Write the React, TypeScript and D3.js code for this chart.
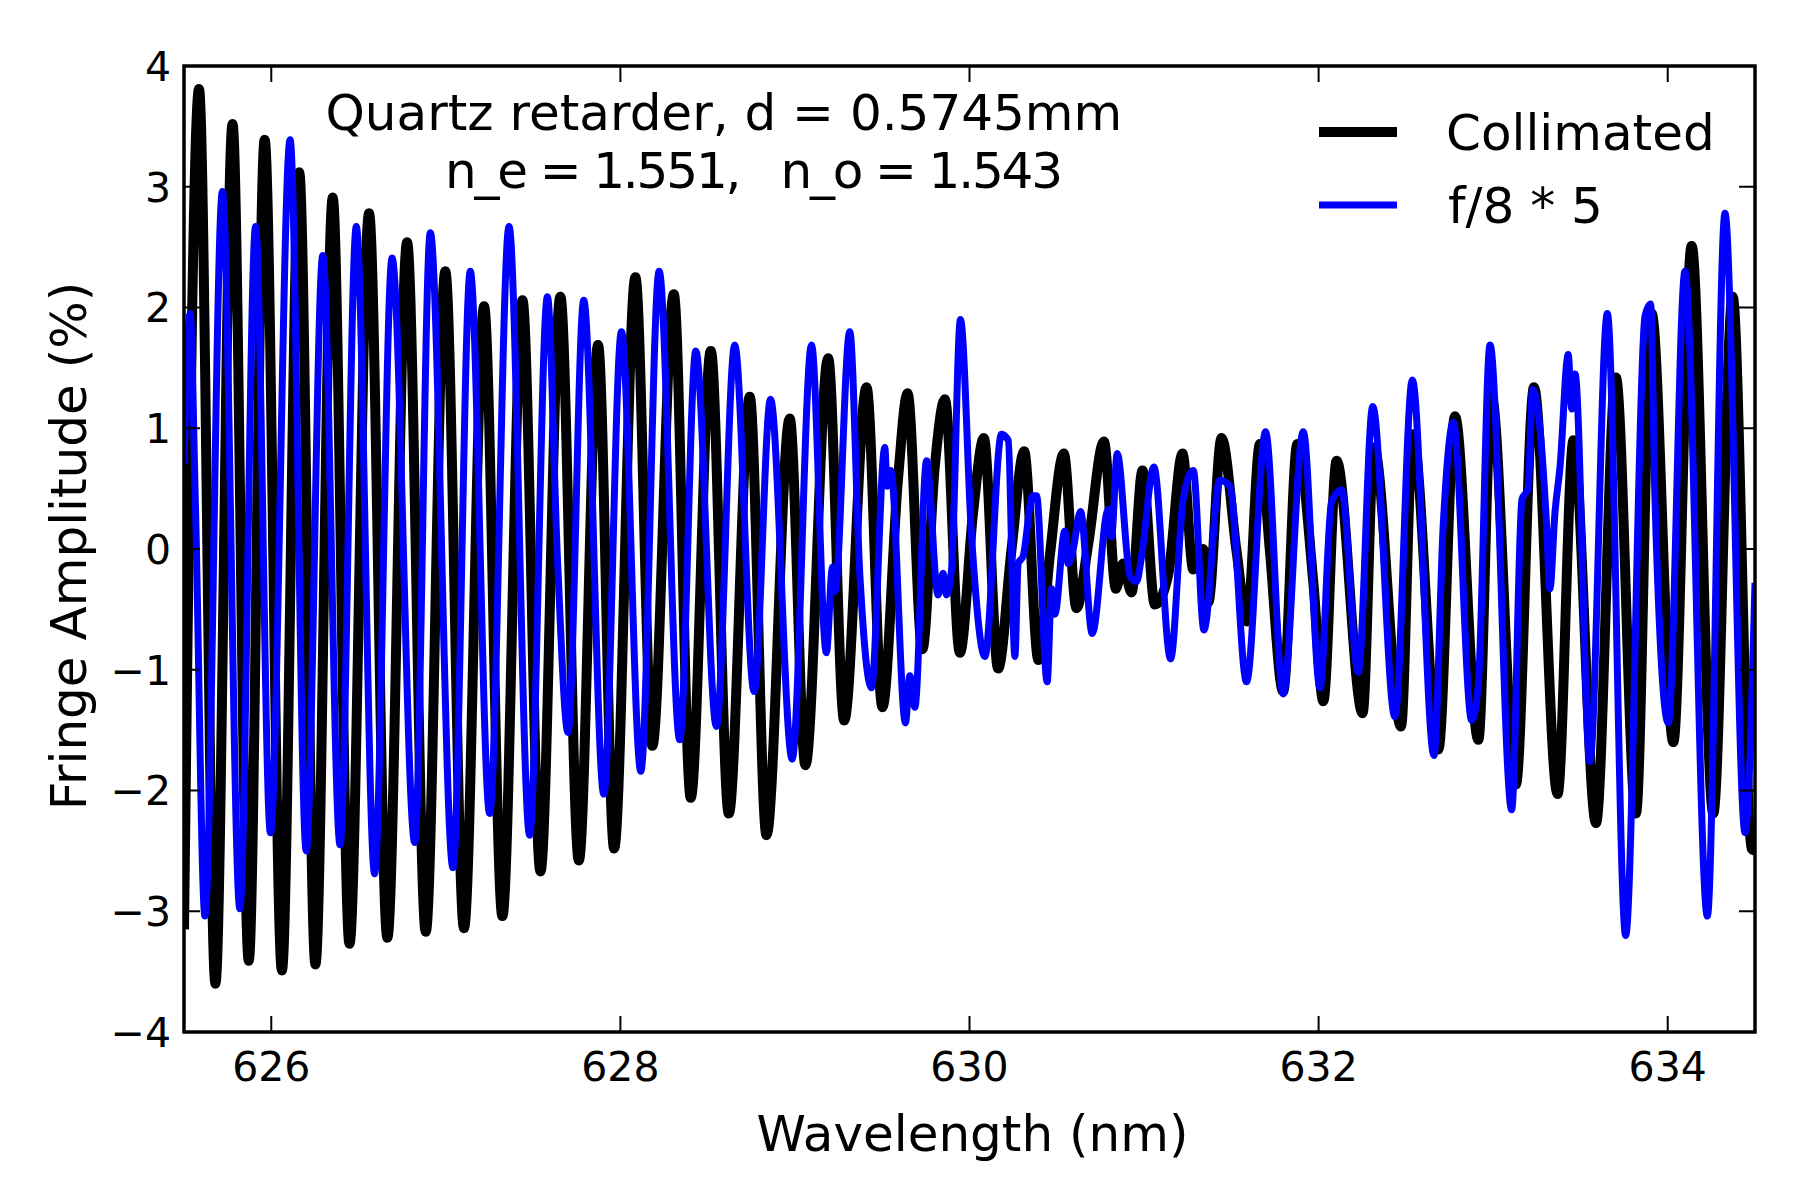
import React from "react";
import * as d3 from "d3";

// Collimated series: [wavelength nm, fringe amplitude %]
const collimated: [number, number][] = [
  [625.5, -3.15], [625.586, 3.81], [625.68, -3.6], [625.778, 3.52], [625.871, -3.41],
  [625.962, 3.39], [626.061, -3.49], [626.16, 3.12], [626.253, -3.44], [626.352, 2.91],
  [626.448, -3.27], [626.56, 2.78], [626.665, -3.22], [626.778, 2.54], [626.885, -3.17],
  [626.997, 2.3], [627.104, -3.14], [627.219, 2.01], [627.324, -3.04], [627.439, 2.06],
  [627.542, -2.67], [627.656, 2.09], [627.762, -2.58], [627.872, 1.69], [627.964, -2.48],
  [628.086, 2.25], [628.183, -1.63], [628.306, 2.11], [628.403, -2.06], [628.518, 1.64],
  [628.621, -2.19], [628.741, 1.26], [628.837, -2.37], [628.97, 1.08], [629.06, -1.79],
  [629.19, 1.58], [629.282, -1.42], [629.41, 1.34], [629.501, -1.31], [629.59, 0.57],
  [629.645, 1.29], [629.73, -0.83], [629.801, 0.68], [629.859, 1.24], [629.945, -0.86],
  [630.021, 0.31], [630.082, 0.92], [630.164, -0.99], [630.241, 0.0], [630.313, 0.81],
  [630.395, -0.92], [630.46, -0.06], [630.54, 0.79], [630.613, -0.49], [630.68, 0.04],
  [630.77, 0.89], [630.839, -0.33], [630.88, -0.12], [630.928, -0.36], [630.991, 0.65],
  [631.062, -0.46], [631.139, -0.21], [631.22, 0.79], [631.282, -0.17], [631.339, 0.0],
  [631.368, -0.44], [631.444, 0.92], [631.53, -0.02], [631.59, -0.6], [631.664, 0.87],
  [631.72, 0.0], [631.797, -1.18], [631.878, 0.87], [631.97, -0.28], [632.027, -1.26],
  [632.103, 0.73], [632.252, -1.36], [632.317, 0.84], [632.472, -1.47], [632.539, 0.95],
  [632.686, -1.66], [632.781, 1.1], [632.915, -1.58], [632.991, 1.26], [633.13, -1.95],
  [633.234, 1.34], [633.369, -2.03], [633.46, 0.9], [633.589, -2.27], [633.703, 1.42],
  [633.818, -2.19], [633.908, 1.95], [634.032, -1.6], [634.137, 2.51], [634.261, -2.19],
  [634.372, 2.09], [634.48, -2.48], [634.5, -2.5],
];

// f/8 * 5 series
const f8: [number, number][] = [
  [625.5, 0.7], [625.535, 1.95], [625.565, 0.4], [625.62, -3.04], [625.72, 2.96],
  [625.82, -2.98], [625.91, 2.67], [625.995, -2.35], [626.108, 3.39], [626.2, -2.5],
  [626.295, 2.43], [626.394, -2.45], [626.487, 2.67], [626.592, -2.69], [626.692, 2.41],
  [626.822, -2.43], [626.911, 2.62], [627.041, -2.64], [627.14, 2.3], [627.251, -2.19],
  [627.362, 2.67], [627.48, -2.37], [627.582, 2.09], [627.64, -0.1], [627.7, -1.52],
  [627.79, 2.06], [627.905, -2.03], [628.006, 1.8], [628.117, -1.84], [628.222, 2.3],
  [628.34, -1.58], [628.432, 1.64], [628.55, -1.47], [628.655, 1.69], [628.766, -1.18],
  [628.86, 1.24], [628.984, -1.74], [629.095, 1.69], [629.18, -0.86], [629.215, -0.15],
  [629.229, -0.35], [629.314, 1.8], [629.372, -0.22], [629.438, -1.15], [629.515, 0.84],
  [629.528, 0.52], [629.549, 0.65], [629.633, -1.44], [629.658, -1.05], [629.687, -1.31],
  [629.754, 0.73], [629.82, -0.38], [629.849, -0.2], [629.868, -0.38], [629.897, -0.17],
  [629.948, 1.9], [630.012, 0.1], [630.088, -0.89], [630.183, 0.95], [630.222, 0.9],
  [630.26, -0.89], [630.279, -0.12], [630.307, -0.06], [630.361, 0.44], [630.384, 0.44],
  [630.445, -1.1], [630.47, -0.33], [630.489, -0.54], [630.546, 0.15], [630.565, -0.12],
  [630.594, 0.0], [630.636, 0.31], [630.703, -0.7], [630.795, 0.33], [630.814, 0.1],
  [630.846, 0.79], [630.919, -0.22], [630.957, -0.27], [630.986, -0.06], [631.056, 0.68],
  [631.152, -0.91], [631.224, 0.41], [631.282, 0.65], [631.343, -0.67], [631.434, 0.57],
  [631.492, 0.52], [631.587, -1.1], [631.696, 0.97], [631.797, -1.2], [631.912, 0.97],
  [632.008, -1.15], [632.074, 0.39], [632.132, 0.49], [632.227, -1.02], [632.31, 1.18],
  [632.437, -1.39], [632.537, 1.4], [632.661, -1.71], [632.714, 0.2], [632.772, 1.05],
  [632.877, -1.42], [632.915, -1.12], [632.982, 1.69], [633.106, -2.16], [633.165, 0.41],
  [633.2, 0.5], [633.226, 1.32], [633.268, 1.0], [633.306, 0.2], [633.325, -0.33],
  [633.354, 0.3], [633.383, 0.68], [633.43, 1.61], [633.45, 1.16], [633.469, 1.45],
  [633.554, -1.76], [633.654, 1.95], [633.759, -3.2], [633.87, 1.93], [633.902, 2.03],
  [633.927, 0.41], [634.003, -1.44], [634.099, 2.3], [634.227, -3.04], [634.328, 2.78],
  [634.443, -2.35], [634.5, -0.28],
];

const xTicks = [626, 628, 630, 632, 634];
const yTicks = [-4, -3, -2, -1, 0, 1, 2, 3, 4];
const seriesNames = ["Collimated", "f/8 * 5"];
const annotation = ["Quartz retarder, d = 0.5745mm", "n_e = 1.551,   n_o = 1.543"];

const W = 1800;
const H = 1200;
const L = 184, R = 1755, T = 66, B = 1032;
const FONT = "'DejaVu Sans', sans-serif";

export default function App() {
  const x = d3.scaleLinear().domain([625.5, 634.5]).range([L, R]);
  const y = d3.scaleLinear().domain([-4, 4]).range([B, T]);
  const line = d3
    .line<[number, number]>()
    .x((d) => x(d[0]))
    .y((d) => y(d[1]))
    .curve(d3.curveMonotoneX);
  const fmt = (v: number) => (v < 0 ? "\u2212" + Math.abs(v) : String(v));
  const tickLen = 16;

  return (
    <div style={{ position: "fixed", left: 0, top: 0, width: W, height: H, background: "#fff" }}>
      <svg width={W} height={H} viewBox={`0 0 ${W} ${H}`} style={{ display: "block" }}>
        <rect x={0} y={0} width={W} height={H} fill="#fff" />
        <defs>
          <clipPath id="plot">
            <rect x={L} y={T} width={R - L} height={B - T} />
          </clipPath>
        </defs>
        <g clipPath="url(#plot)">
          <path d={line(collimated) || ""} fill="none" stroke="#000" strokeWidth={10} strokeLinejoin="round" />
          <path d={line(f8) || ""} fill="none" stroke="#0000ff" strokeWidth={7} strokeLinejoin="round" />
        </g>
        {/* ticks */}
        {xTicks.map((t) => (
          <g key={"xt" + t}>
            <line x1={x(t)} x2={x(t)} y1={B} y2={B - tickLen} stroke="#000" strokeWidth={2} />
            <line x1={x(t)} x2={x(t)} y1={T} y2={T + tickLen} stroke="#000" strokeWidth={2} />
            <text x={x(t)} y={1081} textAnchor="middle" fontFamily={FONT} fontSize={41}>
              {fmt(t)}
            </text>
          </g>
        ))}
        {yTicks.map((t) => (
          <g key={"yt" + t}>
            <line x1={L} x2={L + tickLen} y1={y(t)} y2={y(t)} stroke="#000" strokeWidth={2} />
            <line x1={R} x2={R - tickLen} y1={y(t)} y2={y(t)} stroke="#000" strokeWidth={2} />
            <text x={171} y={y(t)} dy="0.36em" textAnchor="end" fontFamily={FONT} fontSize={41}>
              {fmt(t)}
            </text>
          </g>
        ))}
        <rect x={L} y={T} width={R - L} height={B - T} fill="none" stroke="#000" strokeWidth={3.5} />
        {/* axis labels */}
        <text x={(L + R) / 2 + 3} y={1151} textAnchor="middle" fontFamily={FONT} fontSize={50}>
          Wavelength (nm)
        </text>
        <text
          transform={`translate(86, ${(T + B) / 2 - 3}) rotate(-90)`}
          textAnchor="middle"
          fontFamily={FONT}
          fontSize={50}
        >
          Fringe Amplitude (%)
        </text>
        {/* annotation */}
        <text x={325.5} y={130} fontFamily={FONT} fontSize={50} xmlSpace="preserve" style={{ whiteSpace: "pre" }}>
          {annotation[0]}
        </text>
        <text
          x={445}
          y={188}
          fontFamily={FONT}
          fontSize={50}
          textLength={618}
          lengthAdjust="spacing"
          xmlSpace="preserve"
          style={{ whiteSpace: "pre" }}
        >
          {annotation[1]}
        </text>
        {/* legend */}
        <line x1={1319} x2={1397} y1={132} y2={132} stroke="#000" strokeWidth={10} />
        <text x={1446} y={150} fontFamily={FONT} fontSize={50}>
          {seriesNames[0]}
        </text>
        <line x1={1319} x2={1397} y1={205} y2={205} stroke="#0000ff" strokeWidth={7} />
        <text x={1448} y={223} fontFamily={FONT} fontSize={50}>
          {seriesNames[1]}
        </text>
      </svg>
    </div>
  );
}
